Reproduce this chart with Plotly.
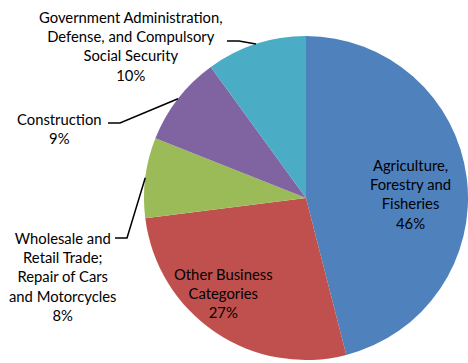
import math
import plotly.graph_objects as go

# ---- data ----
categories = [
    "Agriculture,<br>Forestry and<br>Fisheries",
    "Other Business<br>Categories",
    "Wholesale and<br>Retail Trade;<br>Repair of Cars<br>and Motorcycles",
    "Construction",
    "Government Administration,<br>Defense, and Compulsory<br>Social Security",
]
shares = [46, 27, 8, 9, 10]
colors = ["#4F81BD", "#C0504D", "#9BBB59", "#8064A2", "#4BACC6"]

# ---- layout constants (pixels) ----
W, H = 468, 363
CX, CY, R = 306, 198, 162
FONT = dict(family="Lato, 'Noto Sans', sans-serif", size=14.8, color="#000000")

# label block centres (px) and, for outside labels, leader-line anchors (px)
label_pos = [(410, 194), (223, 293), (62, 276), (60, 128), (131, 46)]
leader_anchor = [None, None, (115, 238), (108, 123), (227, 41)]
ELBOW = 12


def px2paper(x, y):
    return x / W, 1 - y / H


fig = go.Figure(
    go.Pie(
        labels=[c.replace("<br>", " ") for c in categories],
        values=shares,
        sort=False,
        direction="clockwise",
        rotation=0,
        marker=dict(colors=colors, line=dict(width=0)),
        textinfo="none",
        hoverinfo="label+percent",
        domain=dict(x=[(CX - R) / W, (CX + R) / W], y=[1 - (CY + R) / H, 1 - (CY - R) / H]),
        showlegend=False,
    )
)

total = sum(shares)
cum = 0
annotations, shapes = [], []
for i, v in enumerate(shares):
    mid = (cum + v / 2) / total * 2 * math.pi
    cum += v
    lx, ly = label_pos[i]
    px, py = px2paper(lx, ly)
    annotations.append(
        dict(
            x=px, y=py, xref="paper", yref="paper",
            text=f"{categories[i]}<br>{round(v / total * 100)}%",
            showarrow=False, align="center", xanchor="center", yanchor="middle",
            font=FONT,
        )
    )
    if leader_anchor[i] is not None:
        ex, ey = CX + R * math.sin(mid), CY - R * math.cos(mid)
        ax, ay = leader_anchor[i]
        pts = [(ax, ay), (ax + ELBOW, ay), (ex, ey)]
        path = "M " + " L ".join(f"{px2paper(x, y)[0]:.5f},{px2paper(x, y)[1]:.5f}" for x, y in pts)
        shapes.append(dict(type="path", path=path, xref="paper", yref="paper",
                           line=dict(color="#000000", width=1.5)))

fig.update_layout(
    width=W, height=H,
    margin=dict(l=0, r=0, t=0, b=0),
    paper_bgcolor="white", plot_bgcolor="white",
    annotations=annotations, shapes=shapes,
)

fig.write_html("out.html")
